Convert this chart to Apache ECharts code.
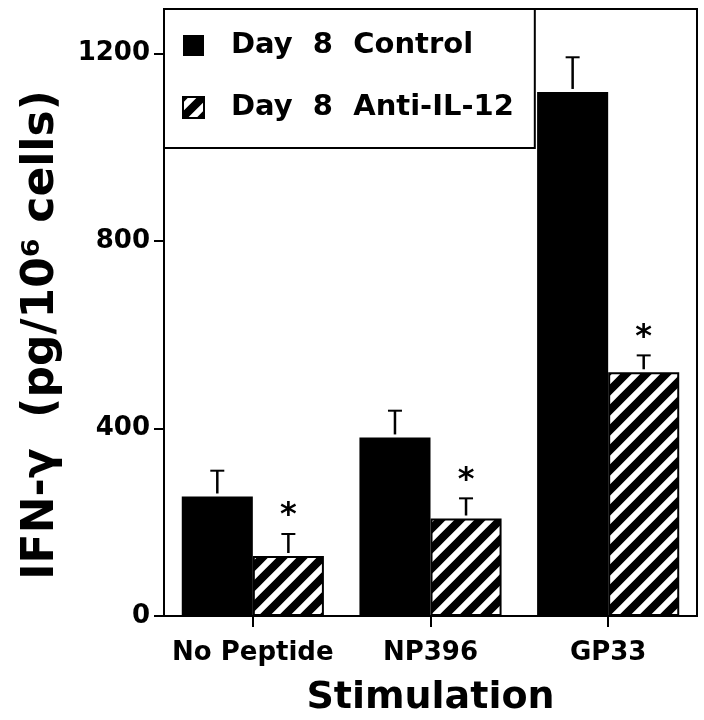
<!DOCTYPE html>
<html>
<head>
<meta charset="utf-8">
<script src="https://cdn.jsdelivr.net/npm/echarts@6/dist/echarts.min.js"></script>
<style>
html,body{margin:0;padding:0;background:#fff;}
#chart{width:704px;height:720px;}
</style>
</head>
<body>
<div id="chart"></div>
<script>
// ---- data ----
const categories = ['No Peptide', 'NP396', 'GP33'];
const seriesNames = ['Day  8  Control', 'Day  8  Anti-IL-12'];
const controlValues = [255, 381, 1118];
const controlErrors = [55, 57, 74];
const antiValues = [128, 208, 520];
const antiErrors = [47, 43, 36];
const antiMarks = ['*', '*', '*'];
const yTicks = [0, 400, 800, 1200];
const yTitle = 'IFN-\u03b3  (pg/10\u2076 cells)';
const xTitle = 'Stimulation';

const FONT = '"DejaVu Sans", "Liberation Sans", sans-serif';

function hatchCanvas() {
  const P = 20;
  const c = document.createElement('canvas');
  c.width = P; c.height = P;
  const g = c.getContext('2d');
  g.fillStyle = '#fff';
  g.fillRect(0, 0, P, P);
  g.strokeStyle = '#000';
  g.lineWidth = 8;
  g.beginPath();
  for (const k of [-1, 0, 1]) {
    g.moveTo(k * P - 3, P + 3);
    g.lineTo(k * P + P + 3, -3);
  }
  g.stroke();
  return c;
}

function errRender(side, marks) {
  return function (params, api) {
    const i = api.value(0), v = api.value(1), e = api.value(2);
    const band = api.size([1, 0])[0];
    const base = api.coord([i, v]);
    const top = api.coord([i, v + e]);
    const x = base[0] + side * band * 0.2;
    const children = [
      { type: 'line', shape: { x1: x, y1: base[1] - 3, x2: x, y2: top[1] }, style: { stroke: '#000', lineWidth: 2.5 } },
      { type: 'line', shape: { x1: x - 7, y1: top[1], x2: x + 7, y2: top[1] }, style: { stroke: '#000', lineWidth: 2 } }
    ];
    if (marks && marks[i]) {
      children.push({
        type: 'text', x: x, y: top[1] - 18,
        style: { text: marks[i], font: 'bold 32px ' + FONT, fill: '#000', align: 'center', verticalAlign: 'middle' }
      });
    }
    return { type: 'group', children: children };
  };
}

const chart = echarts.init(document.getElementById('chart'), null, { renderer: 'canvas' });
const hatch = { image: hatchCanvas(), repeat: 'repeat' };

chart.setOption({
  backgroundColor: '#fff',
  animation: false,
  grid: {
    left: 164, right: 7, top: 9, bottom: 104,
    show: true, borderColor: '#000', borderWidth: 2,
    containLabel: false, outerBoundsMode: 'none'
  },
  legend: {
    data: seriesNames,
    orient: 'vertical',
    left: 164, top: 9,
    padding: [22, 21, 26, 18],
    itemGap: 33,
    itemWidth: 21, itemHeight: 21,
    backgroundColor: '#fff',
    borderColor: '#000', borderWidth: 2,
    selectedMode: false,
    icon: 'rect',
    textStyle: { fontFamily: FONT, fontWeight: 'bold', fontSize: 29, color: '#000', padding: [0, 0, 0, 22] }
  },
  xAxis: {
    type: 'category',
    data: categories,
    axisLine: { show: true, lineStyle: { color: '#000', width: 2 } },
    axisTick: { show: true, alignWithLabel: true, length: 11, lineStyle: { color: '#000', width: 2 } },
    axisLabel: { interval: 0, color: '#000', fontFamily: FONT, fontWeight: 'bold', fontSize: 26, margin: 24 },
    splitLine: { show: false },
    name: xTitle,
    nameLocation: 'middle',
    nameGap: 63,
    nameTextStyle: { color: '#000', fontFamily: FONT, fontWeight: 'bold', fontSize: 38 }
  },
  yAxis: {
    type: 'value',
    min: 0, max: 1295, interval: 400,
    axisLine: { show: true, lineStyle: { color: '#000', width: 2 } },
    axisTick: { show: true, length: 10, lineStyle: { color: '#000', width: 2 }, customValues: yTicks },
    axisLabel: {
      color: '#000', fontFamily: FONT, fontWeight: 'bold', fontSize: 26, margin: 14,
      customValues: yTicks, formatter: (v) => String(v)
    },
    splitLine: { show: false }
  },
  graphic: [{
    type: 'text',
    x: 42, y: 335,
    rotation: Math.PI / 2,
    style: { text: yTitle, font: 'bold 44px ' + FONT, fill: '#000', align: 'center', verticalAlign: 'middle' }
  }],
  series: [
    {
      name: seriesNames[0], type: 'bar', data: controlValues,
      barWidth: '40%', barGap: '0%',
      itemStyle: { color: '#000' }
    },
    {
      name: seriesNames[1], type: 'bar', data: antiValues,
      barWidth: '40%', barGap: '0%',
      itemStyle: { color: hatch, borderColor: '#000', borderWidth: 2 }
    },
    {
      name: 'err-control', type: 'custom', silent: true, z: 5,
      renderItem: errRender(-1, null),
      data: categories.map((c, i) => [i, controlValues[i], controlErrors[i]])
    },
    {
      name: 'err-anti', type: 'custom', silent: true, z: 5,
      renderItem: errRender(1, antiMarks),
      data: categories.map((c, i) => [i, antiValues[i], antiErrors[i]])
    }
  ]
});
</script>
</body>
</html>
